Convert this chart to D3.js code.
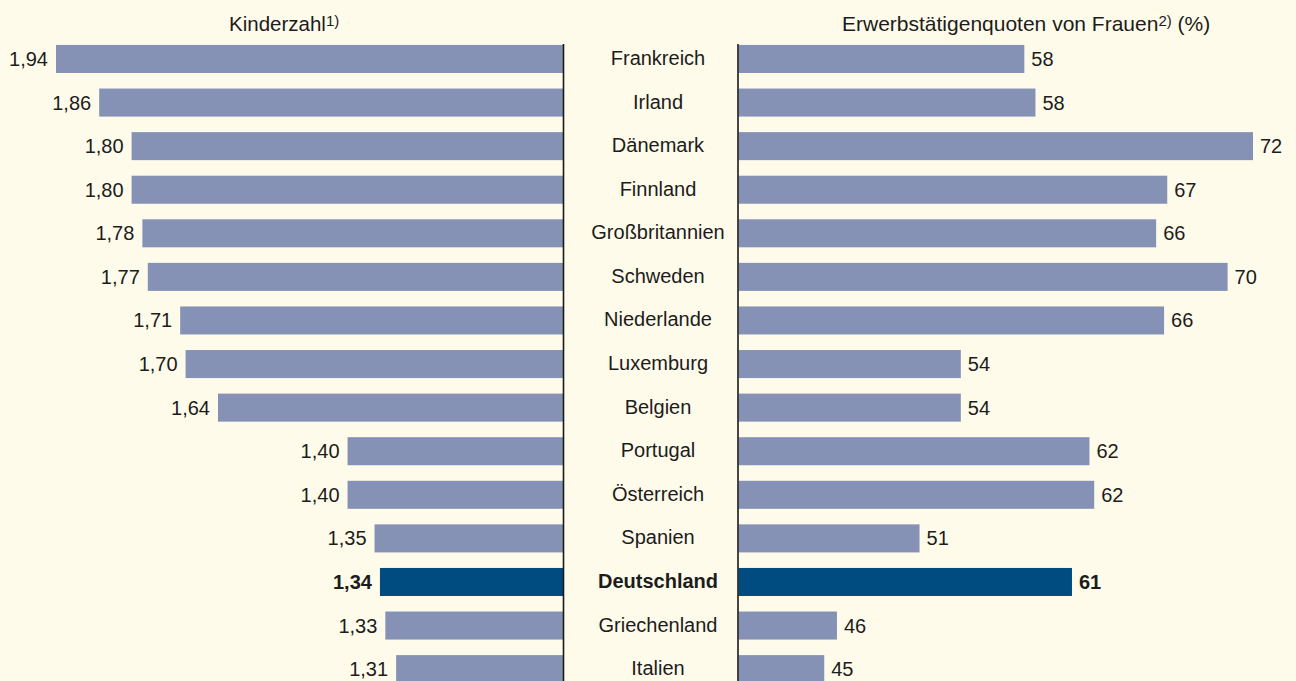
<!DOCTYPE html>
<html>
<head>
<meta charset="utf-8">
<script src="https://cdn.jsdelivr.net/npm/d3@7"></script>
<style>
  html, body { margin: 0; padding: 0; background: #fffbea; }
  svg { display: block; font-family: "Liberation Sans", Arial, sans-serif; }
</style>
</head>
<body>
<svg id="chart" width="1296" height="681"></svg>
<script>
// Data
var countries = ['Frankreich', 'Irland', 'Dänemark', 'Finnland', 'Großbritannien', 'Schweden',
  'Niederlande', 'Luxemburg', 'Belgien', 'Portugal', 'Österreich', 'Spanien',
  'Deutschland', 'Griechenland', 'Italien'];
var kinderzahl = [1.94, 1.86, 1.80, 1.80, 1.78, 1.77, 1.71, 1.70, 1.64, 1.40, 1.40, 1.35, 1.34, 1.33, 1.31];
// bar lengths (printed labels are the rounded values)
var erwerbsquote = [57.6, 58.3, 72.0, 66.6, 65.9, 70.4, 66.4, 53.6, 53.6, 61.7, 62.0, 51.0, 60.6, 45.8, 45.0];
var highlight = 'Deutschland';

var svg = d3.select('#chart');
var W = 1296, H = 681;

var barColor = '#8591b5', hiColor = '#004b80', textColor = '#1c1c1c';

// Scales
var y = d3.scaleBand()
  .domain(countries)
  .range([37.2, 37.2 + 43.58 * countries.length])
  .paddingInner(0.357)
  .paddingOuter(0.178);

var xLeft = d3.scaleLinear().domain([1, 1.94]).range([563.5, 56]);
var xRight = d3.scaleLinear().domain([39.6, 72]).range([738.5, 1253]);

var fmtKinder = function(v) { return d3.format('.2f')(v).replace('.', ','); };
var isHi = function(c) { return c === highlight; };
var mid = function(c) { return y(c) + y.bandwidth() / 2; };

// Left bars (Kinderzahl)
svg.append('g').selectAll('rect')
  .data(countries)
  .enter().append('rect')
  .attr('x', function(c, i) { return xLeft(kinderzahl[i]); })
  .attr('y', function(c) { return y(c); })
  .attr('width', function(c, i) { return xLeft(1) - xLeft(kinderzahl[i]); })
  .attr('height', y.bandwidth())
  .attr('fill', function(c) { return isHi(c) ? hiColor : barColor; });

svg.append('g').selectAll('text')
  .data(countries)
  .enter().append('text')
  .attr('x', function(c, i) { return xLeft(kinderzahl[i]) - 8; })
  .attr('y', function(c) { return mid(c) + 7; })
  .attr('text-anchor', 'end')
  .attr('font-size', 20)
  .attr('font-weight', function(c) { return isHi(c) ? 'bold' : 'normal'; })
  .attr('fill', textColor)
  .text(function(c, i) { return fmtKinder(kinderzahl[i]); });

// Right bars (Erwerbstätigenquote)
svg.append('g').selectAll('rect')
  .data(countries)
  .enter().append('rect')
  .attr('x', xRight(39.6))
  .attr('y', function(c) { return y(c); })
  .attr('width', function(c, i) { return xRight(erwerbsquote[i]) - xRight(39.6); })
  .attr('height', y.bandwidth())
  .attr('fill', function(c) { return isHi(c) ? hiColor : barColor; });

svg.append('g').selectAll('text')
  .data(countries)
  .enter().append('text')
  .attr('x', function(c, i) { return xRight(erwerbsquote[i]) + 7; })
  .attr('y', function(c) { return mid(c) + 7; })
  .attr('font-size', 20)
  .attr('font-weight', function(c) { return isHi(c) ? 'bold' : 'normal'; })
  .attr('fill', textColor)
  .text(function(c, i) { return Math.round(erwerbsquote[i]); });

// Country names in the middle
svg.append('g').selectAll('text')
  .data(countries)
  .enter().append('text')
  .attr('x', 658)
  .attr('y', function(c) { return mid(c) + 6; })
  .attr('text-anchor', 'middle')
  .attr('font-size', 20)
  .attr('font-weight', function(c) { return isHi(c) ? 'bold' : 'normal'; })
  .attr('fill', textColor)
  .text(function(c) { return c; });

// Divider lines
[563.5, 738].forEach(function(x) {
  svg.append('line')
    .attr('x1', x).attr('x2', x)
    .attr('y1', 44).attr('y2', H)
    .attr('stroke', '#1a1a1a')
    .attr('stroke-width', 1.6);
});

// Titles
var t1 = svg.append('text')
  .attr('x', 229).attr('y', 31)
  .attr('font-size', 20.5).attr('fill', textColor);
t1.append('tspan').text('Kinderzahl');
t1.append('tspan').attr('dy', -5).attr('font-size', 15).text('1)');

var t2 = svg.append('text')
  .attr('x', 842).attr('y', 31)
  .attr('font-size', 21).attr('fill', textColor);
t2.append('tspan').text('Erwerbstätigenquoten von Frauen');
t2.append('tspan').attr('dy', -5).attr('font-size', 15).text('2)');
t2.append('tspan').attr('dy', 5).text('\u00a0(%)');
</script>
</body>
</html>
